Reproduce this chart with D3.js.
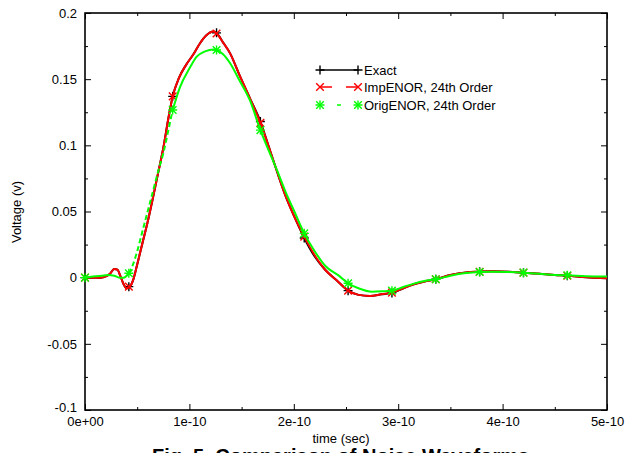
<!DOCTYPE html>
<html><head><meta charset="utf-8">
<script src="https://cdn.jsdelivr.net/npm/d3@7"></script>
<style>
html,body{margin:0;padding:0;background:#fff;}
svg{display:block;}
text{font-family:"Liberation Sans",Arial,sans-serif;}
</style></head>
<body><svg id="chart" width="626" height="453"></svg>
<script>
// time in units of 1e-10 s
const impT = [0.00,0.15,0.20,0.24,0.28,0.31,0.34,0.37,0.40,0.42,0.46,0.50,0.55,0.60,0.65,0.70,0.75,0.80,0.84,0.90,0.97,1.04,1.10,1.16,1.23,1.26,1.32,1.39,1.48,1.58,1.68,1.76,1.84,1.92,2.00,2.10,2.20,2.30,2.41,2.52,2.62,2.73,2.84,2.94,3.05,3.15,3.25,3.36,3.50,3.65,3.78,3.90,4.05,4.20,4.35,4.50,4.62,4.80,5.00];
const impV = [0.000,0.000,0.001,0.003,0.0066,0.006,0.001,-0.005,-0.008,-0.0075,-0.002,0.010,0.026,0.042,0.060,0.079,0.098,0.121,0.137,0.151,0.161,0.169,0.177,0.183,0.186,0.1845,0.178,0.1695,0.153,0.1355,0.117,0.099,0.080,0.062,0.047,0.031,0.017,0.006,-0.002,-0.0098,-0.013,-0.0138,-0.0125,-0.0113,-0.008,-0.005,-0.003,-0.0012,0.002,0.004,0.0045,0.0048,0.0045,0.0038,0.003,0.002,0.0015,0.0003,-0.0005];
const exactT = impT;
const exactV = [0.000,0.000,0.001,0.003,0.0066,0.006,0.001,-0.005,-0.008,-0.0075,-0.002,0.010,0.026,0.042,0.060,0.079,0.098,0.121,0.137,0.151,0.161,0.169,0.177,0.183,0.186,0.185,0.178,0.1695,0.153,0.1355,0.118,0.099,0.080,0.062,0.047,0.030,0.016,0.006,-0.002,-0.0098,-0.013,-0.0138,-0.0126,-0.0115,-0.008,-0.005,-0.003,-0.0012,0.002,0.004,0.0045,0.0048,0.0045,0.0038,0.003,0.002,0.0015,0.0003,-0.0005];
const origT = [0.00,0.10,0.16,0.22,0.28,0.33,0.37,0.42,0.46,0.50,0.55,0.60,0.65,0.70,0.75,0.80,0.84,0.91,1.00,1.07,1.15,1.23,1.26,1.32,1.39,1.48,1.58,1.68,1.76,1.84,1.92,2.00,2.10,2.20,2.30,2.44,2.52,2.62,2.75,2.85,2.94,3.05,3.15,3.25,3.36,3.50,3.65,3.78,3.90,4.05,4.20,4.35,4.50,4.62,4.80,5.00];
const origV = [0.000,0.001,0.0015,0.002,0.0015,0.000,0.000,0.0033,0.010,0.020,0.035,0.050,0.065,0.080,0.094,0.112,0.1267,0.144,0.158,0.167,0.171,0.1725,0.172,0.169,0.162,0.149,0.134,0.1115,0.096,0.081,0.065,0.051,0.0335,0.020,0.009,0.001,-0.0042,-0.008,-0.0106,-0.0103,-0.0098,-0.007,-0.0045,-0.0025,-0.0012,0.0015,0.0035,0.0043,0.0045,0.0043,0.0038,0.003,0.002,0.0018,0.001,0.0008];
const markT = [0,0.42,0.84,1.26,1.68,2.10,2.52,2.94,3.36,3.78,4.20,4.62];
const exactMarkV = [0,-0.0068,0.137,0.185,0.118,0.030,-0.0098,-0.0115,-0.0012,0.0045,0.0038,0.0015];
const impMarkV = [0,-0.0068,0.137,0.1845,0.117,0.031,-0.0098,-0.0113,-0.0012,0.0045,0.0038,0.0015];
const origMarkV = [0,0.0033,0.1267,0.172,0.1115,0.0335,-0.0042,-0.0098,-0.0012,0.0043,0.0038,0.0018];
const xTicks = [0,1,2,3,4,5];
const xTickLabels = ["0e+00","1e-10","2e-10","3e-10","4e-10","5e-10"];
const xMinor = [0.5,1.5,2.5,3.5,4.5];
const yTicks = [-0.1,-0.05,0,0.05,0.1,0.15,0.2];
const yTickLabels = ["-0.1","-0.05","0","0.05","0.1","0.15","0.2"];
const yMinor = [-0.075,-0.025,0.025,0.075,0.125,0.175];
const seriesNames = ["Exact","ImpENOR, 24th Order","OrigENOR, 24th Order"];
const seriesColors = ["#000000","#ff0000","#00ff00"];

const svg = d3.select("#chart");
const L=85, R=607, T=13, B=410;
const x = d3.scaleLinear().domain([0,5]).range([L,R]);
const y = d3.scaleLinear().domain([-0.1,0.2]).range([B,T]);

function styleAxis(g){
  g.select(".domain").remove();
  g.selectAll(".tick line").attr("stroke","#000").attr("stroke-width",1);
  g.selectAll(".tick text").attr("font-size",13).attr("fill","#000").attr("font-family","Liberation Sans, Arial, sans-serif");
}
svg.append("g").attr("transform",`translate(0,${B})`)
  .call(d3.axisBottom(x).tickValues(xTicks).tickSizeInner(-6).tickSizeOuter(0).tickPadding(7).tickFormat((d,i)=>xTickLabels[i])).call(styleAxis);
svg.append("g").attr("transform",`translate(0,${B})`)
  .call(d3.axisBottom(x).tickValues(xMinor).tickSizeInner(-3).tickSizeOuter(0).tickFormat("")).call(styleAxis);
svg.append("g").attr("transform",`translate(0,${T})`)
  .call(d3.axisTop(x).tickValues(xTicks).tickSizeInner(-6).tickSizeOuter(0).tickFormat("")).call(styleAxis);
svg.append("g").attr("transform",`translate(0,${T})`)
  .call(d3.axisTop(x).tickValues(xMinor).tickSizeInner(-3).tickSizeOuter(0).tickFormat("")).call(styleAxis);
const yAx = svg.append("g").attr("transform",`translate(${L},0)`)
  .call(d3.axisLeft(y).tickValues(yTicks).tickSizeInner(-6).tickSizeOuter(0).tickPadding(8).tickFormat((d,i)=>yTickLabels[i])).call(styleAxis);
yAx.selectAll(".tick text").filter(d=>d===-0.1).attr("dy","0.1em");
svg.append("g").attr("transform",`translate(${L},0)`)
  .call(d3.axisLeft(y).tickValues(yMinor).tickSizeInner(-3).tickSizeOuter(0).tickFormat("")).call(styleAxis);
svg.append("g").attr("transform",`translate(${R},0)`)
  .call(d3.axisRight(y).tickValues(yTicks).tickSizeInner(-6).tickSizeOuter(0).tickFormat("")).call(styleAxis);
svg.append("g").attr("transform",`translate(${R},0)`)
  .call(d3.axisRight(y).tickValues(yMinor).tickSizeInner(-3).tickSizeOuter(0).tickFormat("")).call(styleAxis);

svg.append("rect").attr("x",L).attr("y",T).attr("width",R-L).attr("height",B-T)
  .attr("fill","none").attr("stroke","#000").attr("stroke-width",1.6);

const line = d3.line().x(d=>x(d[0])).y(d=>y(d[1])).curve(d3.curveMonotoneX);
const zip = (a,b)=>a.map((t,i)=>[t,b[i]]);

function plus(g,cx,cy,c){ const s=4.5;
  g.append("path").attr("d",`M${cx-s},${cy}H${cx+s}M${cx},${cy-s}V${cy+s}`).attr("stroke",c).attr("stroke-width",1.4).attr("fill","none");}
function cross(g,cx,cy,c){ const s=3.8;
  g.append("path").attr("d",`M${cx-s},${cy-s}L${cx+s},${cy+s}M${cx-s},${cy+s}L${cx+s},${cy-s}`).attr("stroke",c).attr("stroke-width",1.4).attr("fill","none");}
function star(g,cx,cy,c){ plus(g,cx,cy,c); cross(g,cx,cy,c); }

const plot = svg.append("g");
plot.append("path").attr("d",line(zip(exactT,exactV))).attr("fill","none").attr("stroke",seriesColors[0]).attr("stroke-width",2);
markT.forEach((t,i)=>plus(plot,x(t),y(exactMarkV[i]),seriesColors[0]));
plot.append("path").attr("d",line(zip(impT,impV))).attr("fill","none").attr("stroke",seriesColors[1]).attr("stroke-width",2);
markT.forEach((t,i)=>cross(plot,x(t),y(impMarkV[i]),seriesColors[1]));
const og = zip(origT,origV);
plot.append("path").attr("d",line(og.filter(d=>d[0]<=0.42))).attr("fill","none").attr("stroke",seriesColors[2]).attr("stroke-width",2);
plot.append("path").attr("d",line(og.filter(d=>d[0]>=0.42&&d[0]<=0.84))).attr("fill","none").attr("stroke",seriesColors[2]).attr("stroke-width",2).attr("stroke-dasharray","5,3");
plot.append("path").attr("d",line(og.filter(d=>d[0]>=0.84))).attr("fill","none").attr("stroke",seriesColors[2]).attr("stroke-width",2);
markT.forEach((t,i)=>star(plot,x(t),y(origMarkV[i]),seriesColors[2]));

const lg = svg.append("g");
const lx0=320, lx1=358, ly=[70,87,105];
lg.append("line").attr("x1",lx0).attr("x2",lx1).attr("y1",ly[0]).attr("y2",ly[0]).attr("stroke","#000").attr("stroke-width",1.5);
plus(lg,lx0,ly[0],"#000"); plus(lg,lx1,ly[0],"#000");
lg.append("line").attr("x1",lx0).attr("x2",lx1).attr("y1",ly[1]).attr("y2",ly[1]).attr("stroke","#ff0000").attr("stroke-width",1.5).attr("stroke-dasharray","12,14,12");
cross(lg,lx0,ly[1],"#ff0000"); cross(lg,lx1,ly[1],"#ff0000");
lg.append("line").attr("x1",lx0).attr("x2",lx1).attr("y1",ly[2]).attr("y2",ly[2]).attr("stroke","#00ff00").attr("stroke-width",1.5).attr("stroke-dasharray","0,17,4,17");
star(lg,lx0,ly[2],"#00ff00"); star(lg,lx1,ly[2],"#00ff00");
seriesNames.forEach((n,i)=>lg.append("text").attr("x",364).attr("y",ly[i]).attr("dy","0.35em").attr("font-size",13).text(n));

svg.append("text").attr("x",(L+R)/2-5).attr("y",443).attr("text-anchor","middle").attr("font-size",13).text("time (sec)");
svg.append("text").attr("transform","translate(21,212) rotate(-90)").attr("text-anchor","middle").attr("font-size",13).text("Voltage (v)");
svg.append("text").attr("x",152).attr("y",463).attr("font-family","Liberation Serif, Times New Roman, serif").attr("font-weight","bold").attr("font-size",20).text("Fig. 5. Comparison of Noise Waveforms");
</script></body></html>
